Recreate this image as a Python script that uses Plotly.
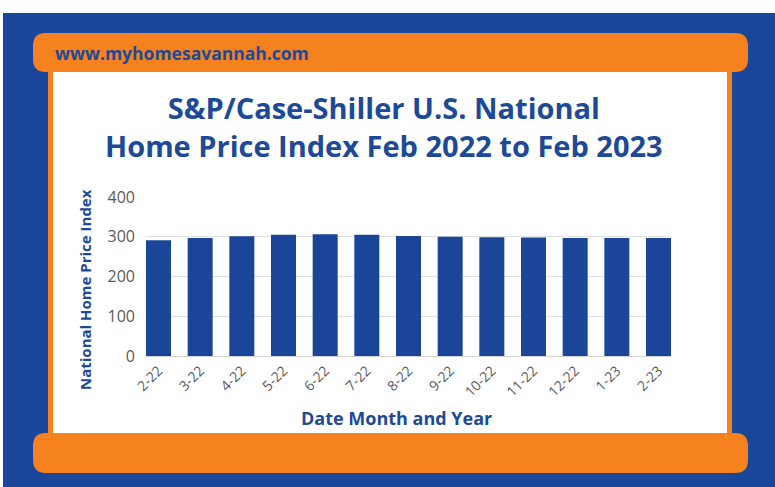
import plotly.graph_objects as go

# ---- data ----
months = ["2-22", "3-22", "4-22", "5-22", "6-22", "7-22", "8-22", "9-22",
          "10-22", "11-22", "12-22", "1-23", "2-23"]
index_values = [291, 297, 301, 305, 306, 305, 302, 300, 299, 298, 297, 297, 297]
y_ticks = [0, 100, 200, 300, 400]

title_line1 = "S&P/Case-Shiller U.S. National"
title_line2 = "Home Price Index Feb 2022 to Feb 2023"
site = "www.myhomesavannah.com"
x_title = "Date Month and Year"
y_title = "National Home Price Index"

# ---- layout geometry (pixels) ----
W, H = 775, 487
L, R, T, B = 146, 671, 197, 356   # plot area in pixels
PW, PH = R - L, B - T

BLUE = "#1a479b"
ORANGE = "#f5821f"
TEXT_BLUE = "#1d4a97"
BAR = "#1a4599"
FONT = "Open Sans"


def px(x):
    return (x - L) / PW


def py(y):
    return (B - y) / PH


def rect(x0, y0, x1, y1, color):
    return dict(type="rect", xref="paper", yref="paper", layer="below",
                x0=px(x0), x1=px(x1), y0=py(y1), y1=py(y0),
                fillcolor=color, line=dict(width=0))


def rounded(x0, y0, x1, y1, r, color):
    rx, ry = r / PW, r / PH
    a, b = px(x0), px(x1)
    top, bot = py(y0), py(y1)
    path = (f"M {a+rx},{top} L {b-rx},{top} Q {b},{top} {b},{top-ry} "
            f"L {b},{bot+ry} Q {b},{bot} {b-rx},{bot} "
            f"L {a+rx},{bot} Q {a},{bot} {a},{bot+ry} "
            f"L {a},{top-ry} Q {a},{top} {a+rx},{top} Z")
    return dict(type="path", xref="paper", yref="paper", layer="below",
                path=path, fillcolor=color, line=dict(width=0))


shapes = [
    rect(3, 13, 775, 487, BLUE),
    rect(48, 66, 732, 438, ORANGE),
    rect(53, 70, 727, 434, "white"),
    rounded(33, 33, 748, 72, 13, ORANGE),
    rounded(33, 433, 748, 473, 13, ORANGE),
]

annotations = [
    dict(text=site, x=px(53), y=py(53), xanchor="left", yanchor="middle",
         font=dict(family=FONT, size=17.5, color=TEXT_BLUE, weight="bold")),
    dict(text=title_line1 + "<br>" + title_line2, x=px(384), y=py(126),
         xanchor="center", yanchor="middle", align="center",
         font=dict(family=FONT, size=29, color=TEXT_BLUE, weight="bold")),
    dict(text=x_title, x=px(396), y=py(418), xanchor="center", yanchor="middle",
         font=dict(family=FONT, size=18, color=TEXT_BLUE, weight="bold")),
    dict(text=y_title, x=px(85), y=py(290), xanchor="center", yanchor="middle",
         textangle=-90,
         font=dict(family=FONT, size=15, color=TEXT_BLUE, weight="bold")),
]
for a in annotations:
    a.update(xref="paper", yref="paper", showarrow=False)

fig = go.Figure(go.Bar(x=months, y=index_values, marker=dict(color=BAR, line=dict(width=0)),
                       hoverinfo="x+y"))

fig.update_layout(
    width=W, height=H,
    margin=dict(l=L, r=W - R, t=T, b=H - B, pad=0),
    paper_bgcolor="white",
    plot_bgcolor="rgba(0,0,0,0)",
    bargap=0.4,
    showlegend=False,
    shapes=shapes,
    annotations=annotations,
    font=dict(family=FONT, color="#595959"),
)
fig.update_xaxes(
    type="category", range=[-0.3, 12.3], tickangle=-45,
    tickfont=dict(family=FONT, size=14, color="#595959"),
    showline=True, linecolor="#d0d0d0", linewidth=1,
    showgrid=False, ticks="", fixedrange=True,
)
fig.update_yaxes(
    range=[0, 400], tickvals=y_ticks,
    tickfont=dict(family=FONT, size=16, color="#595959"),
    showgrid=True, gridcolor="#e0e0e0", gridwidth=1,
    zeroline=False, showline=False, ticks="", ticklabelstandoff=10,
    fixedrange=True,
)

fig.write_html("out.html", config={"displayModeBar": False},
               post_script="document.body.style.margin='0';document.body.style.overflow='hidden';")
